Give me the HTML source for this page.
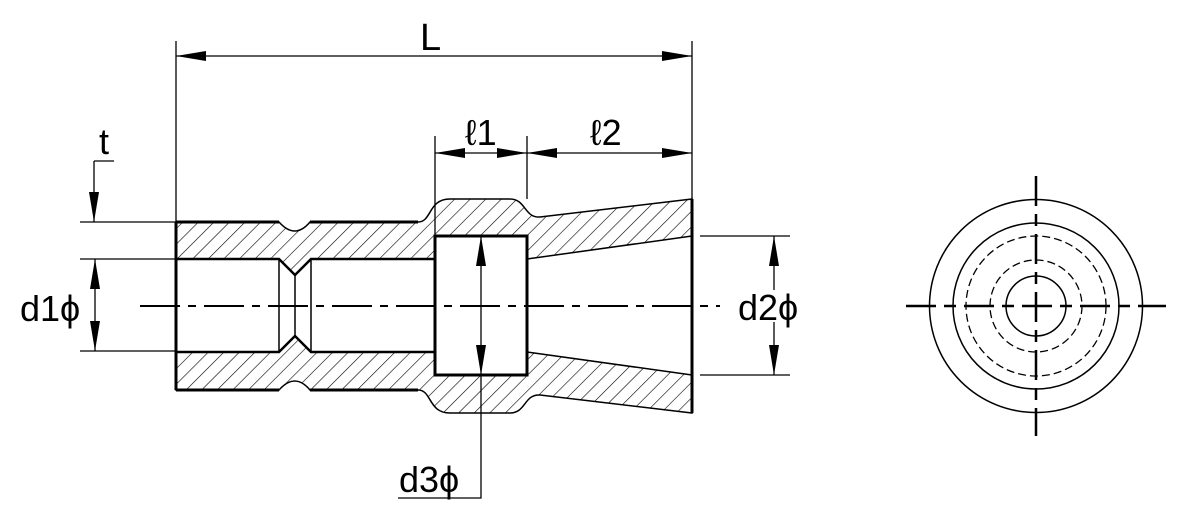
<!DOCTYPE html>
<html><head><meta charset="utf-8"><style>
html,body{margin:0;padding:0;background:#fff;}
svg{display:block;}
text{font-family:"Liberation Sans",sans-serif;font-size:36px;fill:#000;}
</style></head><body>
<svg width="1180" height="509" viewBox="0 0 1180 509" xmlns="http://www.w3.org/2000/svg">
<defs>
<pattern id="h" patternUnits="userSpaceOnUse" width="11" height="11" patternTransform="rotate(45)">
<rect width="11" height="11" fill="#fff"/>
<line x1="0" y1="0" x2="0" y2="11" stroke="#000" stroke-width="1.2"/>
</pattern>
<marker id="a" viewBox="0 0 30 10" refX="30" refY="5" markerWidth="30" markerHeight="10" markerUnits="userSpaceOnUse" orient="auto-start-reverse">
<path d="M0,0 L30,5 L0,10 Z" fill="#000"/>
</marker>
</defs>
<path d="M176,222 L279,222 Q295,240 310,222 L418,222 C432,222 428,199 450,199 L510,199 C526,199 524,218 540,217 L692,199 L692,413 L540,395 C524,394 526,413 510,413 L450,413 C428,413 432,390 418,390 L310,390 Q295,372 279,390 L176,390 Z" fill="url(#h)" stroke="#000" stroke-width="1.5"/>
<path d="M176,222 L279,222 M310,222 L418,222 M176,390 L279,390 M310,390 L418,390" stroke="#000" stroke-width="3" fill="none"/>
<path d="M176,259 H279 L295,275 L311,259 H435 V236 H527 V259 L692,236 V375 L527,352 V375 H435 V352 H311 L295,336 L279,352 H176 Z" fill="#fff" stroke="none"/>
<path d="M176,259 H279 L295,275 L311,259 H435 M176,352 H279 L295,336 L311,352 H435" stroke="#000" stroke-width="2.5" fill="none"/>
<path d="M279,259 V352 M295,275 V336 M311,259 V352" stroke="#000" stroke-width="1.5"/>
<path d="M527,259 L692,236 M527,352 L692,375" stroke="#000" stroke-width="1.5"/>
<rect x="435" y="236" width="92" height="139" fill="none" stroke="#000" stroke-width="3"/>
<path d="M176,222 V390 M692,199 V413" stroke="#000" stroke-width="3"/>
<line x1="140" y1="306" x2="720" y2="306" stroke="#000" stroke-width="2" stroke-dasharray="40,8,8,8"/>
<g stroke="#000" stroke-width="1.3" fill="none">
<path d="M176,41 V222 M692,41 V199 M435,136 V236 M527,136 V199"/>
<path d="M80,222 H176 M80,259 H176 M80,351 H176"/>
<path d="M700,236 H790 M700,375 H790"/>
<path d="M94,161 H114 M94,161 V222" marker-end="url(#a)"/>
<line x1="176" y1="56" x2="692" y2="56" marker-start="url(#a)" marker-end="url(#a)"/>
<line x1="435" y1="153" x2="527" y2="153" marker-start="url(#a)" marker-end="url(#a)"/>
<line x1="527" y1="153" x2="692" y2="153" marker-start="url(#a)" marker-end="url(#a)"/>
<line x1="95" y1="259" x2="95" y2="351" marker-start="url(#a)" marker-end="url(#a)"/>
<line x1="481" y1="236" x2="481" y2="375" marker-start="url(#a)" marker-end="url(#a)"/>
<path d="M481,375 V498 H398"/>
<path d="M774,290 V236" marker-end="url(#a)"/>
<path d="M774,322 V375" marker-end="url(#a)"/>
</g>
<text x="420" y="50" style="font-size:38px">L</text>
<text x="99" y="154">t</text>
<text x="465" y="145">ℓ1</text>
<text x="590" y="145">ℓ2</text>
<text x="20" y="321">d1ϕ</text>
<text x="738" y="320">d2ϕ</text>
<text x="399" y="492">d3ϕ</text>
<g fill="none" stroke="#000">
<circle cx="1036" cy="306" r="106.5" stroke-width="1.5"/>
<circle cx="1036" cy="306" r="83" stroke-width="1.5"/>
<circle cx="1036" cy="306" r="70" stroke-width="1.3" stroke-dasharray="8,4"/>
<circle cx="1036" cy="306" r="46" stroke-width="1.3" stroke-dasharray="8,4"/>
<circle cx="1036" cy="306" r="30" stroke-width="1.5"/>
<line x1="906" y1="306" x2="1166" y2="306" stroke-width="2.5" stroke-dasharray="30,8,12,8"/>
<line x1="1036" y1="176" x2="1036" y2="436" stroke-width="2.5" stroke-dasharray="30,8,12,8"/>
</g>
</svg>
</body></html>
